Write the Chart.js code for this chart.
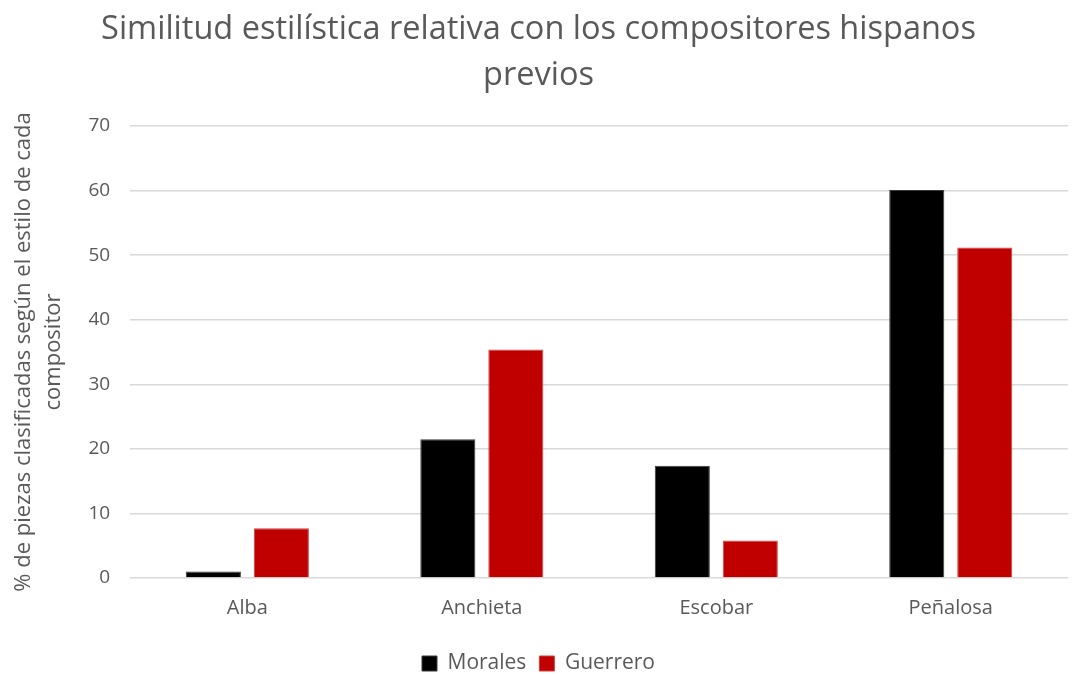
<!DOCTYPE html>
<html>
<head>
<meta charset="utf-8">
<script src="https://cdn.jsdelivr.net/npm/chart.js@4"></script>
<style>
  body { margin: 0; background: #fff; }
  #wrap { width: 1078px; height: 675px; }
</style>
</head>
<body>
<div id="wrap"><canvas id="c" width="1078" height="675"></canvas></div>
<script>
const categories = ["Alba", "Anchieta", "Escobar", "Peñalosa"];
const morales = [1.0, 21.5, 17.4, 60.1];
const guerrero = [7.7, 35.4, 5.8, 51.2];
const yTicks = [0, 10, 20, 30, 40, 50, 60, 70];

const grey = "#595959";
const font = "'Open Sans', 'Noto Sans', sans-serif";

const ctx = document.getElementById("c");
const chart = new Chart(ctx, {
  type: "bar",
  data: {
    labels: categories,
    datasets: [
      { label: "Morales", data: morales, backgroundColor: "#000000", borderColor: "#3a3a3a", borderWidth: 1 },
      { label: "Guerrero", data: guerrero, backgroundColor: "#c00000", borderColor: "#d04040", borderWidth: 1 }
    ]
  },
  options: {
    responsive: false,
    animation: false,
    layout: { padding: { left: 9, right: 10, top: 7, bottom: -9 } },
    datasets: {
      bar: { categoryPercentage: 0.58, barPercentage: 0.81 }
    },
    scales: {
      x: {
        grid: { display: false },
        border: { display: false },
        ticks: { color: grey, font: { family: font, size: 20 }, padding: 10 },
        // extra room between the category labels and the legend
        afterFit: axis => { axis.height += 10 }
      },
      y: {
        min: 0,
        max: 70,
        afterBuildTicks: axis => { axis.ticks = yTicks.map(v => ({ value: v })) },
        grid: { color: "#d9d9d9", lineWidth: 1.5, drawTicks: false },
        border: { display: false },
        ticks: { color: grey, font: { family: font, size: 19 }, padding: 20 },
        title: {
          display: true,
          text: ["% de piezas clasificadas según el estilo de cada", "compositor"],
          color: grey,
          font: { family: font, size: 22, lineHeight: 1.35 },
          padding: { top: 0, bottom: 0 }
        }
      }
    },
    plugins: {
      title: {
        display: true,
        text: ["Similitud estilística relativa con los compositores hispanos", "previos"],
        color: grey,
        font: { family: font, size: 32.5, weight: "normal", lineHeight: 1.4 },
        padding: { top: 0, bottom: 28 }
      },
      legend: {
        position: "bottom",
        labels: {
          color: grey,
          font: { family: font, size: 21 },
          boxWidth: 15,
          boxHeight: 15,
          padding: 13
        }
      },
      tooltip: { enabled: false }
    }
  }
});
</script>
</body>
</html>
